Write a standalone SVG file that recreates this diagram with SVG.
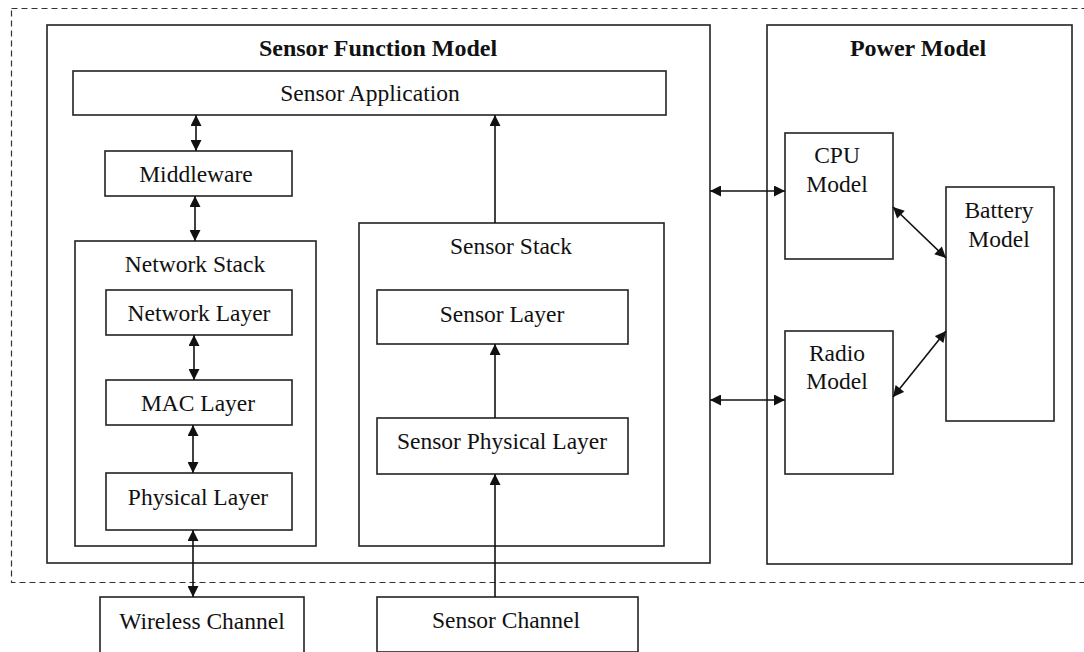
<svg xmlns="http://www.w3.org/2000/svg" width="1084" height="652" viewBox="0 0 1084 652">
<defs>
<style>
.box{fill:#fff;stroke:#222;stroke-width:1.6}
.t{font-family:"Liberation Serif","Times New Roman",serif;font-size:23.5px;fill:#111;text-anchor:middle}
.b{font-weight:bold;font-size:24px}
.c{stroke:#111;stroke-width:1.6;fill:none}
</style>
<marker id="ah" viewBox="0 0 10 10" refX="10" refY="5" markerWidth="12" markerHeight="11" markerUnits="userSpaceOnUse" orient="auto-start-reverse">
<path d="M0,0 L10,5 L0,10 z" fill="#111"/>
</marker>
</defs>
<rect width="1084" height="652" fill="#fff"/>
<rect id="boundary" x="11.5" y="8.5" width="1100" height="574" fill="none" stroke="#333" stroke-width="1.2" stroke-dasharray="6,4"/>

<g id="sensor-function-model">
<rect class="box" x="47" y="25" width="663" height="538"/>
<text class="t b" x="378" y="56">Sensor Function Model</text>
</g>
<g id="power-model">
<rect class="box" x="767" y="25" width="305" height="539"/>
<text class="t b" x="918" y="56">Power Model</text>
</g>
<g id="sensor-application">
<rect class="box" x="73" y="71" width="593" height="44"/>
<text class="t" x="370" y="101">Sensor Application</text>
</g>
<g id="middleware">
<rect class="box" x="105" y="151" width="187" height="45"/>
<text class="t" x="196" y="182">Middleware</text>
</g>
<g id="network-stack">
<rect class="box" x="75" y="241" width="241" height="305"/>
<text class="t" x="195" y="272">Network Stack</text>
</g>
<g id="network-layer">
<rect class="box" x="106" y="290" width="186" height="45"/>
<text class="t" x="199" y="321">Network Layer</text>
</g>
<g id="mac-layer">
<rect class="box" x="106" y="380" width="186" height="45"/>
<text class="t" x="198" y="411">MAC Layer</text>
</g>
<g id="physical-layer">
<rect class="box" x="106" y="473" width="186" height="57"/>
<text class="t" x="198" y="505">Physical Layer</text>
</g>
<g id="wireless-channel">
<rect class="box" x="100" y="597" width="204" height="60"/>
<text class="t" x="202" y="629">Wireless Channel</text>
</g>
<g id="sensor-stack">
<rect class="box" x="359" y="223" width="305" height="323"/>
<text class="t" x="511" y="254">Sensor Stack</text>
</g>
<g id="sensor-layer">
<rect class="box" x="377" y="290" width="251" height="54"/>
<text class="t" x="502" y="322">Sensor Layer</text>
</g>
<g id="sensor-physical-layer">
<rect class="box" x="377" y="418" width="251" height="56"/>
<text class="t" x="502" y="449">Sensor Physical Layer</text>
</g>
<g id="sensor-channel">
<rect class="box" x="377" y="597" width="261" height="55"/>
<text class="t" x="506" y="628">Sensor Channel</text>
</g>
<g id="cpu-model">
<rect class="box" x="785" y="133" width="108" height="126"/>
<text class="t" x="837" y="163">CPU</text>
<text class="t" x="837" y="192">Model</text>
</g>
<g id="radio-model">
<rect class="box" x="785" y="331" width="108" height="143"/>
<text class="t" x="837" y="361">Radio</text>
<text class="t" x="837" y="389">Model</text>
</g>
<g id="battery-model">
<rect class="box" x="946" y="187" width="108" height="234"/>
<text class="t" x="999" y="218">Battery</text>
<text class="t" x="999" y="247">Model</text>
</g>

<g id="connectors">
<line class="c" x1="196" y1="115" x2="196" y2="151" marker-start="url(#ah)" marker-end="url(#ah)"/>
<line class="c" x1="195" y1="196" x2="195" y2="241" marker-start="url(#ah)" marker-end="url(#ah)"/>
<line class="c" x1="194" y1="335" x2="194" y2="380" marker-start="url(#ah)" marker-end="url(#ah)"/>
<line class="c" x1="193" y1="425" x2="193" y2="473" marker-start="url(#ah)" marker-end="url(#ah)"/>
<line class="c" x1="193" y1="530" x2="193" y2="597" marker-start="url(#ah)" marker-end="url(#ah)"/>
<line class="c" x1="495" y1="223" x2="495" y2="115" marker-end="url(#ah)"/>
<line class="c" x1="495" y1="418" x2="495" y2="344" marker-end="url(#ah)"/>
<line class="c" x1="495" y1="597" x2="495" y2="474" marker-end="url(#ah)"/>
<line class="c" x1="710" y1="191" x2="785" y2="191" marker-start="url(#ah)" marker-end="url(#ah)"/>
<line class="c" x1="710" y1="400" x2="785" y2="400" marker-start="url(#ah)" marker-end="url(#ah)"/>
<line class="c" x1="893" y1="207" x2="946" y2="258" marker-start="url(#ah)" marker-end="url(#ah)"/>
<line class="c" x1="893" y1="397" x2="946" y2="331" marker-start="url(#ah)" marker-end="url(#ah)"/>
</g>
</svg>
